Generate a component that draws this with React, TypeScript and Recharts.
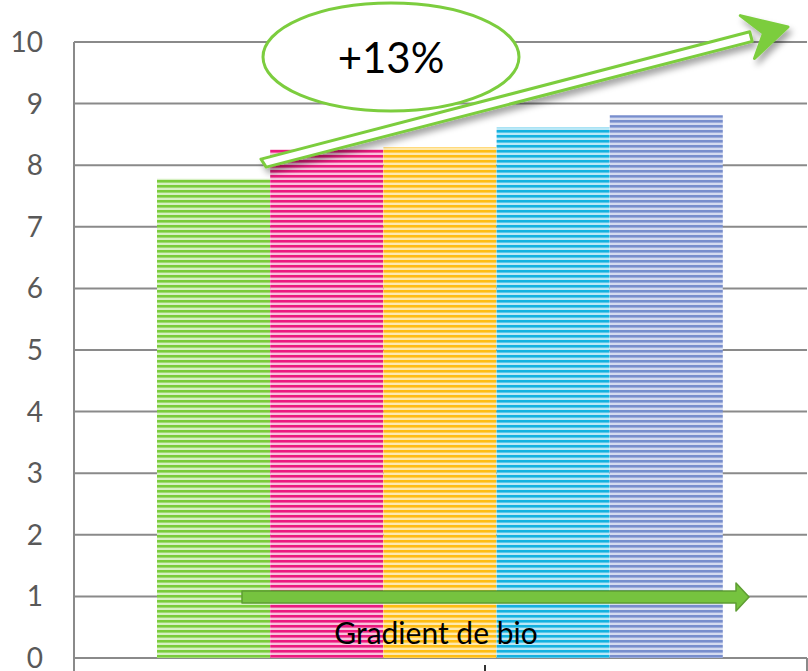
import { Bar, BarChart, CartesianGrid, Cell, XAxis, YAxis } from 'recharts'

// five bars on a 0–10 scale
const categories = ['A', 'B', 'C', 'D', 'E']
const values = [7.78, 8.26, 8.29, 8.61, 8.81]
const yTicks = [0, 1, 2, 3, 4, 5, 6, 7, 8, 9, 10]
const trendLabel = '+13%'
const gradientLabel = 'Gradient de bio'

// dark stripe / light stripe per bar
const stripes = [
  ['#7acc3a', '#d6f0c2'],
  ['#eb1a7f', '#f9c3dc'],
  ['#ffbd12', '#ffe9ad'],
  ['#14b1e0', '#b9e8f7'],
  ['#788ecd', '#d4dbf0'],
]

const data = categories.map((name, i) => ({ name, value: values[i] }))

const GRID = '#8a8a8a'
const GREEN = '#7ccd3e'

// helpers for the slanted arrow, expressed along its own axis
const tail = { x: 262, y: 163 }
const tip = { x: 788, y: 27 }
const len = Math.hypot(tip.x - tail.x, tip.y - tail.y)
const ux = (tip.x - tail.x) / len
const uy = (tip.y - tail.y) / len
const nx = -uy
const ny = ux
const at = (s: number, t: number) =>
  `${(tail.x + s * ux + t * nx).toFixed(1)},${(tail.y + s * uy + t * ny).toFixed(1)}`

export default function App() {
  const shaft = [at(0, -4), at(505, -5), at(505, 5), at(3, 5)].join(' ')
  const head = [at(500, -23), at(len, 0), at(503, 22), at(518, 0)].join(' ')

  return (
    <div style={{ position: 'absolute', left: 0, top: 0, width: 808, height: 671, background: '#fff' }}>
      <svg width={0} height={0} style={{ position: 'absolute' }}>
        <defs>
          {stripes.map(([dark, light], i) => (
            <pattern key={i} id={`stripe-${i}`} patternUnits="userSpaceOnUse" width={10} height={5}>
              <rect width={10} height={5} fill={light} />
              <rect y={0} width={10} height={2.6} fill={dark} />
            </pattern>
          ))}
          <filter id="shadow" x="-20%" y="-50%" width="140%" height="200%">
            <feDropShadow dx={3} dy={5} stdDeviation={3} floodColor="#000" floodOpacity={0.35} />
          </filter>
        </defs>
      </svg>

      <BarChart
        width={808}
        height={671}
        data={data}
        margin={{ top: 42, right: 1, bottom: 13, left: 0 }}
        barCategoryGap={0}
      >
        <CartesianGrid vertical={false} stroke={GRID} strokeWidth={2} />
        <XAxis
          dataKey="name"
          tick={false}
          tickLine={false}
          height={0}
          padding={{ left: 83, right: 84 }}
          axisLine={{ stroke: GRID, strokeWidth: 2 }}
        />
        <YAxis
          domain={[0, 10]}
          ticks={yTicks}
          width={74}
          interval={0}
          tickLine={false}
          tickSize={0}
          tickMargin={31}
          axisLine={{ stroke: GRID, strokeWidth: 2 }}
          tick={{ fill: '#595959', fontSize: 28, fontFamily: 'Lato, sans-serif' }}
        />
        <Bar dataKey="value" isAnimationActive={false}>
          {data.map((d, i) => (
            <Cell key={d.name} fill={`url(#stripe-${i})`} />
          ))}
        </Bar>
      </BarChart>

      <svg
        width={808}
        height={671}
        style={{ position: 'absolute', left: 0, top: 0, pointerEvents: 'none' }}
      >
        {/* box below the category axis */}
        <line x1={74} y1={658} x2={74} y2={671} stroke={GRID} strokeWidth={2} />
        <line x1={807} y1={658} x2={807} y2={671} stroke={GRID} strokeWidth={2} />
        <line x1={485} y1={665} x2={485} y2={671} stroke="#333" strokeWidth={2} />

        {/* rising trend arrow */}
        <g filter="url(#shadow)">
          <polygon points={shaft} fill="#fff" stroke={GREEN} strokeWidth={3} strokeLinejoin="round" />
          <polygon points={head} fill={GREEN} stroke={GREEN} strokeWidth={3} strokeLinejoin="round" />
        </g>

        <ellipse cx={391} cy={57} rx={128} ry={54} fill="#fff" stroke={GREEN} strokeWidth={3} />
        <text
          x={391}
          y={73}
          textAnchor="middle"
          fontSize={42}
          fontFamily="Lato, sans-serif"
          fill="#000"
        >
          {trendLabel}
        </text>

        {/* horizontal gradient arrow */}
        <polygon
          points="242,591 736,591 736,583 749,597 736,611 736,603 242,603"
          fill="#76c33f"
          stroke="#5e9d33"
          strokeWidth={1.5}
          strokeLinejoin="round"
        />
        <text
          x={436}
          y={644}
          textAnchor="middle"
          fontSize={30}
          fontFamily="Lato, sans-serif"
          fill="#000"
        >
          {gradientLabel}
        </text>
      </svg>
    </div>
  )
}
